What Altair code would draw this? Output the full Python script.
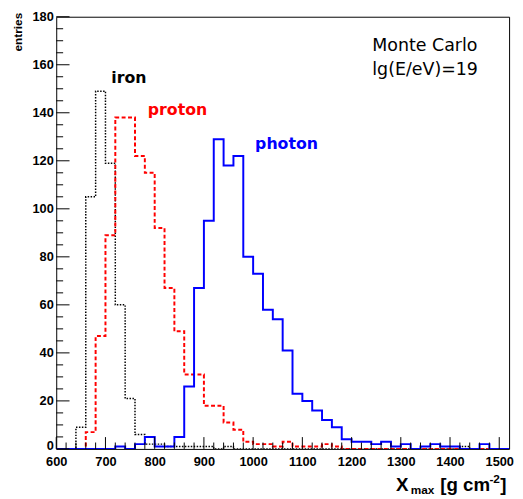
import altair as alt
import pandas as pd

# ---- data ----
bin_edges = list(range(600, 1540, 20))  # 600 ... 1520 (46 bins of 20 g/cm2)

iron = [0, 0, 9, 105, 149, 119, 60, 21, 6, 2,
        2, 1, 1, 1, 1, 1, 0, 1, 0, 0,
        0, 0, 0, 0, 0, 0, 0, 0, 0, 0,
        0, 0, 0, 0, 0, 0, 0, 0, 0, 0,
        0, 1, 0, 0, 0, 0]
proton = [0, 0, 0, 7, 47, 89, 138, 138, 122, 115,
          92, 67, 49, 31, 31, 18, 18, 11, 8, 3,
          2, 2, 1, 3, 1, 1, 1, 2, 1, 0,
          0, 0, 0, 0, 0, 0, 0, 0, 0, 0,
          0, 0, 0, 0, 0, 0]
photon = [0, 0, 0, 0, 0, 0, 1, 0, 2, 5,
          1, 1, 5, 26, 67, 95, 129, 118, 122, 80,
          73, 58, 54, 41, 23, 20, 16, 12, 9, 4,
          3, 3, 2, 3, 1, 2, 0, 1, 2, 1,
          1, 0, 0, 2, 0, 0]

x_labels = list(range(600, 1600, 100))
y_labels = list(range(0, 200, 20))
x_minor = [v for v in range(600, 1520, 20) if v % 100 != 0]
y_minor = [v for v in range(0, 180, 5) if v % 20 != 0]


def hist_frame(values):
    vals = values + [values[-1]]
    return pd.DataFrame({"edge": bin_edges, "count": vals})


W, H = 460, 439
x_scale = alt.Scale(domain=[600, 1520], nice=False, zero=False)
y_scale = alt.Scale(domain=[0, 180], nice=False, zero=True)

lab = dict(labelFont="Liberation Sans", labelFontWeight="bold", labelFontSize=13,
           labelColor="black", ticks=False, tickSize=0, domain=False, grid=False,
           labelFlush=False, labelOverlap=False, labelBound=False, title=None)
x_axis = alt.Axis(values=x_labels, format="d", labelPadding=7, **lab)
y_axis = alt.Axis(values=y_labels, format="d", labelPadding=3,
                  labelOffset={"condition": {"test": "datum.value == 0", "value": -3}, "value": 0},
                  **lab)


def hist(values, color, dash, width):
    enc = dict(
        x=alt.X("edge:Q", scale=x_scale, axis=x_axis),
        y=alt.Y("count:Q", scale=y_scale, axis=y_axis),
    )
    mk = dict(interpolate="step-after", color=color, strokeWidth=width, clip=True)
    if dash:
        mk["strokeDash"] = dash
    return alt.Chart(hist_frame(values)).mark_line(**mk).encode(**enc)


def xticks(vals, length):
    return alt.Chart(pd.DataFrame({"edge": vals})).mark_rule(color="black", strokeWidth=1).encode(
        x=alt.X("edge:Q", scale=x_scale, axis=x_axis), y=alt.value(H), y2=alt.value(H - length))


def yticks(vals, length):
    return alt.Chart(pd.DataFrame({"count": vals})).mark_rule(color="black", strokeWidth=1).encode(
        y=alt.Y("count:Q", scale=y_scale, axis=y_axis), x=alt.value(0), x2=alt.value(length))


one = pd.DataFrame({"a": [0]})


def label(text, x, y, size, color="black", font="DejaVu Sans", weight="normal",
          align="left", baseline="alphabetic", angle=0):
    kw = dict(text=text, fontSize=size, color=color, font=font, fontWeight=weight,
              align=align, baseline=baseline)
    if angle:
        kw["angle"] = angle
    return alt.Chart(one).mark_text(**kw).encode(x=alt.value(x), y=alt.value(y))


layers = [
    hist(iron, "black", [1.5, 1.5], 1.5),
    hist(proton, "#ff0000", [4, 2.5], 2),
    hist(photon, "#0000ff", None, 2),
    xticks(x_labels, 12), xticks(x_minor, 6.5),
    yticks(y_labels, 13.5), yticks(y_minor, 7),
    label("iron", 56, 67, 16, weight="bold"),
    label("proton", 93, 100, 16, color="#ff0000", weight="bold"),
    label("photon", 202, 134, 16, color="#0000ff", weight="bold"),
    label("Monte Carlo", 321, 35, 17.7),
    label("lg(E/eV)=19", 321, 59, 17.7),
    label("entries", -39, -4, 12, font="Liberation Sans", weight="bold",
          align="right", baseline="middle", angle=270),
    label("X", 345, 482, 19, font="Liberation Sans", weight="bold"),
    label("max", 360, 485, 12, font="Liberation Sans", weight="bold"),
    label("[g cm", 390, 482, 19, font="Liberation Sans", weight="bold"),
    label("-2", 440, 474, 12, font="Liberation Sans", weight="bold"),
    label("]", 451, 482, 19, font="Liberation Sans", weight="bold"),
]

chart = alt.layer(*layers).properties(
    width=W, height=H, autosize="none",
    padding={"left": 49, "top": 5, "right": 6, "bottom": 47},
    background="white",
).configure_view(stroke="black", strokeWidth=1)

chart.save("out.html", embed_options={"renderer": "svg", "actions": False})
